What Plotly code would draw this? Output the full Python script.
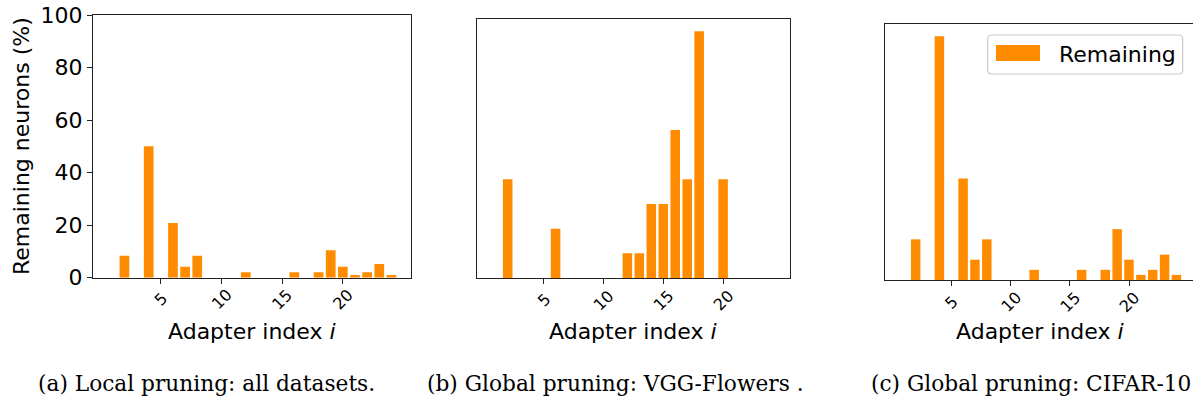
import plotly.graph_objects as go

# ---------------- data ----------------
adapter_index = list(range(1, 25))
local_all = [0, 8.33, 0, 50.0, 0, 20.83, 4.17, 8.33, 0, 0, 0, 2.08,
             0, 0, 0, 2.08, 0, 2.08, 10.42, 4.17, 1.04, 2.08, 5.21, 1.04]
global_vgg = [0, 37.5, 0, 0, 0, 18.75, 0, 0, 0, 0, 0, 9.375,
              9.375, 28.125, 28.125, 56.25, 37.5, 93.75, 0, 37.5, 0, 0, 0, 0]
global_cifar = [0, 15.28, 0, 91.67, 0, 38.19, 7.64, 15.28, 0, 0, 0, 3.82,
                0, 0, 0, 3.82, 0, 3.82, 19.10, 7.64, 1.91, 3.82, 9.55, 1.91]
x_tick_vals = [5, 10, 15, 20]
y_tick_vals = [0, 20, 40, 60, 80, 100]
captions = ["(a) Local pruning: all datasets.",
            "(b) Global pruning: VGG-Flowers .",
            "(c) Global pruning: CIFAR-10"]
series_name = "Remaining"
x_title = "Adapter index <i>i</i>"
y_title = "Remaining neurons (%)"

# ---------------- layout geometry ----------------
W, H = 1193, 400
BAR_COLOR = "#FF8C00"
SPINE = "#222222"
FONT = "DejaVu Sans"

def px_x(p):
    return p / W

def px_y(p):
    return 1 - p / H

panels = [
    # data, left, right, top, bottom, xrange, yrange
    (local_all, 93, 410.7, 15, 277.7, [-0.59, 25.59], [0, 100]),
    (global_vgg, 476.7, 790, 19, 278, [-0.59, 25.59], [0, 93.75 * 1.05]),
    (global_cifar, 885, 1193, 24, 280, [-0.59, 25.40], [0, 91.67 * 1.05]),
]

fig = go.Figure()
layout = dict(
    template="none",
    width=W, height=H,
    margin=dict(l=0, r=0, t=0, b=0, pad=0, autoexpand=False),
    paper_bgcolor="white", plot_bgcolor="white",
    font=dict(family=FONT, color="black", size=22),
    bargap=0.2,
    showlegend=False,
)
annotations = []
shapes = []

for i, (vals, left, right, top, bottom, xr, yr) in enumerate(panels):
    n = "" if i == 0 else str(i + 1)
    fig.add_trace(go.Bar(
        x=adapter_index, y=vals, name=series_name,
        marker=dict(color=BAR_COLOR, line=dict(width=0)),
        xaxis="x" + n, yaxis="y" + n,
    ))
    layout["xaxis" + n] = dict(
        domain=[px_x(left), min(1.0, px_x(right))], range=xr,
        anchor="y" + n, showgrid=False, zeroline=False, automargin=False,
        showline=True, linecolor=SPINE, linewidth=1.3, mirror=True,
        ticks="outside", ticklen=5, tickcolor=SPINE, tickwidth=1.3,
        tickvals=x_tick_vals, showticklabels=False,
    )
    layout["yaxis" + n] = dict(
        domain=[px_y(bottom), px_y(top)], range=yr,
        anchor="x" + n, showgrid=False, zeroline=False, automargin=False,
        showline=True, linecolor=SPINE, linewidth=1.3,
        mirror=(i < 2),
        ticks="outside" if i == 0 else "",
        ticklen=5, tickcolor=SPINE, tickwidth=1.3,
        tickvals=y_tick_vals if i == 0 else [],
        showticklabels=(i == 0),
        tickfont=dict(family=FONT, size=22, color="black"),
    )
    # rotated x tick labels
    for t in x_tick_vals:
        annotations.append(dict(
            x=t, xref="x" + n, y=px_y(bottom + 22), yref="paper",
            text=str(t), showarrow=False, textangle=-45,
            xanchor="center", yanchor="middle",
            font=dict(family=FONT, size=16, color="black"),
        ))
    # x axis title
    annotations.append(dict(
        x=px_x((left + (right if i < 2 else 1195)) / 2), xref="paper",
        y=px_y(331), yref="paper", text=x_title, showarrow=False,
        xanchor="center", yanchor="middle",
        font=dict(family=FONT, size=22, color="black"),
    ))

# y axis title
annotations.append(dict(
    x=px_x(21.7), xref="paper", y=px_y(146.3), yref="paper",
    text=y_title, showarrow=False, textangle=-90,
    xanchor="center", yanchor="middle",
    font=dict(family=FONT, size=22, color="black"),
))

# legend (panel c), drawn as a framed key
lx0, lx1, ly0, ly1, r = 987.7, 1182.7, 35, 74, 4
path = (f"M {px_x(lx0 + r)} {px_y(ly0)} L {px_x(lx1 - r)} {px_y(ly0)} "
        f"Q {px_x(lx1)} {px_y(ly0)} {px_x(lx1)} {px_y(ly0 + r)} "
        f"L {px_x(lx1)} {px_y(ly1 - r)} Q {px_x(lx1)} {px_y(ly1)} {px_x(lx1 - r)} {px_y(ly1)} "
        f"L {px_x(lx0 + r)} {px_y(ly1)} Q {px_x(lx0)} {px_y(ly1)} {px_x(lx0)} {px_y(ly1 - r)} "
        f"L {px_x(lx0)} {px_y(ly0 + r)} Q {px_x(lx0)} {px_y(ly0)} {px_x(lx0 + r)} {px_y(ly0)} Z")
shapes.append(dict(type="path", xref="paper", yref="paper", path=path,
                   fillcolor="rgba(255,255,255,0.8)",
                   line=dict(color="#cccccc", width=1.2)))
shapes.append(dict(type="rect", xref="paper", yref="paper",
                   x0=px_x(996), x1=px_x(1040), y0=px_y(61), y1=px_y(45),
                   fillcolor=BAR_COLOR, line=dict(width=0)))
annotations.append(dict(
    x=px_x(1057), xref="paper", y=px_y(54), yref="paper",
    text=series_name, showarrow=False, xanchor="left", yanchor="middle",
    font=dict(family=FONT, size=22, color="black"),
))

# captions
cap_left = [35.5, 425, 868.5]
for c, xl in zip(captions, cap_left):
    annotations.append(dict(
        x=px_x(xl), xref="paper", y=px_y(383), yref="paper",
        text=c, showarrow=False, xanchor="left", yanchor="middle",
        font=dict(family="DejaVu Serif", size=21.7, color="black"),
    ))

layout["annotations"] = annotations
layout["shapes"] = shapes
fig.update_layout(**layout)
fig.write_html(
    "out.html",
    config={"displayModeBar": False},
    post_script="document.body.style.margin='0';document.body.style.overflow='hidden';",
)
